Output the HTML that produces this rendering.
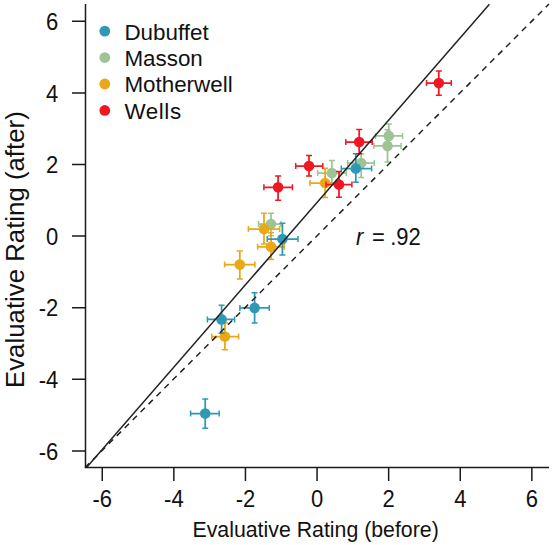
<!DOCTYPE html>
<html><head><meta charset="utf-8"><style>
html,body{margin:0;padding:0;background:#fff;}
svg{display:block;}
text{font-family:"Liberation Sans",sans-serif;font-size:22px;fill:#111;}
</style></head><body>
<svg width="554" height="545" viewBox="0 0 554 545">
<rect width="554" height="545" fill="#fff"/>
<path d="M375.5 135.9H402.5M388.8 124.0V147.6" stroke="#9cc494" stroke-width="1.75"/><path d="M375.5 132.9V138.9M402.5 132.9V138.9M385.8 124.0H391.8M385.8 147.6H391.8" stroke="#9cc494" stroke-width="1.5"/><circle cx="388.8" cy="135.9" r="5.3" fill="#9cc494"/>
<path d="M373.9 145.9H401.1M387.5 129.7V161.9" stroke="#9cc494" stroke-width="1.75"/><path d="M373.9 142.9V148.9M401.1 142.9V148.9M384.5 129.7H390.5M384.5 161.9H390.5" stroke="#9cc494" stroke-width="1.5"/><circle cx="387.5" cy="145.9" r="5.3" fill="#9cc494"/>
<path d="M347.6 163.0H374.3M361.2 154.1V177.5" stroke="#9cc494" stroke-width="1.75"/><path d="M347.6 160.0V166.0M374.3 160.0V166.0M358.2 154.1H364.2M358.2 177.5H364.2" stroke="#9cc494" stroke-width="1.5"/><circle cx="361.2" cy="163.0" r="5.3" fill="#9cc494"/>
<path d="M317.6 173.0H346.4M331.9 160.6V184.0" stroke="#9cc494" stroke-width="1.75"/><path d="M317.6 170.0V176.0M346.4 170.0V176.0M328.9 160.6H334.9M328.9 184.0H334.9" stroke="#9cc494" stroke-width="1.5"/><circle cx="331.9" cy="173.0" r="5.3" fill="#9cc494"/>
<path d="M258.5 224.0H281.0M271.0 213.2V235.8" stroke="#9cc494" stroke-width="1.75"/><path d="M258.5 221.0V227.0M281.0 221.0V227.0M268.0 213.2H274.0M268.0 235.8H274.0" stroke="#9cc494" stroke-width="1.5"/><circle cx="271.0" cy="224.0" r="5.3" fill="#9cc494"/>
<path d="M211.7 336.5H238.6M224.9 323.1V349.7" stroke="#eaa716" stroke-width="1.75"/><path d="M211.7 333.5V339.5M238.6 333.5V339.5M221.9 323.1H227.9M221.9 349.7H227.9" stroke="#eaa716" stroke-width="1.5"/><circle cx="224.9" cy="336.5" r="5.3" fill="#eaa716"/>
<path d="M224.6 264.6H254.9M239.8 251.0V278.9" stroke="#eaa716" stroke-width="1.75"/><path d="M224.6 261.6V267.6M254.9 261.6V267.6M236.8 251.0H242.8M236.8 278.9H242.8" stroke="#eaa716" stroke-width="1.5"/><circle cx="239.8" cy="264.6" r="5.3" fill="#eaa716"/>
<path d="M248.4 229.0H279.6M264.0 213.2V244.0" stroke="#eaa716" stroke-width="1.75"/><path d="M248.4 226.0V232.0M279.6 226.0V232.0M261.0 213.2H267.0M261.0 244.0H267.0" stroke="#eaa716" stroke-width="1.5"/><circle cx="264.0" cy="229.0" r="5.3" fill="#eaa716"/>
<path d="M257.6 246.8H284.2M271.0 232.7V259.6" stroke="#eaa716" stroke-width="1.75"/><path d="M257.6 243.8V249.8M284.2 243.8V249.8M268.0 232.7H274.0M268.0 259.6H274.0" stroke="#eaa716" stroke-width="1.5"/><circle cx="271.0" cy="246.8" r="5.3" fill="#eaa716"/>
<path d="M309.9 183.0H338.0M325.1 168.2V197.6" stroke="#eaa716" stroke-width="1.75"/><path d="M309.9 180.0V186.0M338.0 180.0V186.0M322.1 168.2H328.1M322.1 197.6H328.1" stroke="#eaa716" stroke-width="1.5"/><circle cx="325.1" cy="183.0" r="5.3" fill="#eaa716"/>
<path d="M190.6 413.6H219.2M205.2 399.1V428.3" stroke="#2f99b5" stroke-width="1.75"/><path d="M190.6 410.6V416.6M219.2 410.6V416.6M202.2 399.1H208.2M202.2 428.3H208.2" stroke="#2f99b5" stroke-width="1.5"/><circle cx="205.2" cy="413.6" r="5.3" fill="#2f99b5"/>
<path d="M207.4 319.4H234.6M221.6 305.3V333.2" stroke="#2f99b5" stroke-width="1.75"/><path d="M207.4 316.4V322.4M234.6 316.4V322.4M218.6 305.3H224.6M218.6 333.2H224.6" stroke="#2f99b5" stroke-width="1.5"/><circle cx="221.6" cy="319.4" r="5.3" fill="#2f99b5"/>
<path d="M239.9 307.9H269.3M254.6 292.8V323.1" stroke="#2f99b5" stroke-width="1.75"/><path d="M239.9 304.9V310.9M269.3 304.9V310.9M251.6 292.8H257.6M251.6 323.1H257.6" stroke="#2f99b5" stroke-width="1.5"/><circle cx="254.6" cy="307.9" r="5.3" fill="#2f99b5"/>
<path d="M267.3 239.1H298.0M282.4 223.3V255.0" stroke="#2f99b5" stroke-width="1.75"/><path d="M267.3 236.1V242.1M298.0 236.1V242.1M279.4 223.3H285.4M279.4 255.0H285.4" stroke="#2f99b5" stroke-width="1.5"/><circle cx="282.4" cy="239.1" r="5.3" fill="#2f99b5"/>
<path d="M341.3 168.6H371.6M355.8 153.8V182.3" stroke="#2f99b5" stroke-width="1.75"/><path d="M341.3 165.6V171.6M371.6 165.6V171.6M352.8 153.8H358.8M352.8 182.3H358.8" stroke="#2f99b5" stroke-width="1.5"/><circle cx="355.8" cy="168.6" r="5.3" fill="#2f99b5"/>
<path d="M426.5 83.1H451.3M438.8 71.0V95.2" stroke="#ef1822" stroke-width="1.75"/><path d="M426.5 80.1V86.1M451.3 80.1V86.1M435.8 71.0H441.8M435.8 95.2H441.8" stroke="#ef1822" stroke-width="1.5"/><circle cx="438.8" cy="83.1" r="5.3" fill="#ef1822"/>
<path d="M345.8 142.0H372.2M359.2 129.4V153.7" stroke="#ef1822" stroke-width="1.75"/><path d="M345.8 139.0V145.0M372.2 139.0V145.0M356.2 129.4H362.2M356.2 153.7H362.2" stroke="#ef1822" stroke-width="1.5"/><circle cx="359.2" cy="142.0" r="5.3" fill="#ef1822"/>
<path d="M295.7 166.0H322.8M309.0 155.5V175.9" stroke="#ef1822" stroke-width="1.75"/><path d="M295.7 163.0V169.0M322.8 163.0V169.0M306.0 155.5H312.0M306.0 175.9H312.0" stroke="#ef1822" stroke-width="1.5"/><circle cx="309.0" cy="166.0" r="5.3" fill="#ef1822"/>
<path d="M263.9 187.3H292.4M278.1 175.9V200.2" stroke="#ef1822" stroke-width="1.75"/><path d="M263.9 184.3V190.3M292.4 184.3V190.3M275.1 175.9H281.1M275.1 200.2H281.1" stroke="#ef1822" stroke-width="1.5"/><circle cx="278.1" cy="187.3" r="5.3" fill="#ef1822"/>
<path d="M326.0 184.5H351.9M339.0 171.5V197.3" stroke="#ef1822" stroke-width="1.75"/><path d="M326.0 181.5V187.5M351.9 181.5V187.5M336.0 171.5H342.0M336.0 197.3H342.0" stroke="#ef1822" stroke-width="1.5"/><circle cx="339.0" cy="184.5" r="5.3" fill="#ef1822"/>

<path d="M86.6 467.6L489.4 4.2" stroke="#222" stroke-width="1.5" fill="none"/>
<path d="M85 467.6L549 4" stroke="#222" stroke-width="1.5" fill="none" stroke-dasharray="6 5.23"/>
<path d="M85.5 4V467.6H549" stroke="#1a1a1a" stroke-width="1.5" fill="none"/>
<path d="M102.25 467.5V481M72 450.90H85.5M173.85 467.5V481M72 379.30H85.5M245.45 467.5V481M72 307.70H85.5M317.05 467.5V481M72 236.10H85.5M388.65 467.5V481M72 164.50H85.5M460.25 467.5V481M72 92.90H85.5M531.85 467.5V481M72 21.30H85.5" stroke="#1a1a1a" stroke-width="1.5" fill="none"/>
<text transform="translate(102.25 506.6) scale(1 1.06)" text-anchor="middle">-6</text><text transform="translate(58.3 459.60) scale(1 1.06)" text-anchor="end">-6</text><text transform="translate(173.85 506.6) scale(1 1.06)" text-anchor="middle">-4</text><text transform="translate(58.3 388.00) scale(1 1.06)" text-anchor="end">-4</text><text transform="translate(245.45 506.6) scale(1 1.06)" text-anchor="middle">-2</text><text transform="translate(58.3 316.40) scale(1 1.06)" text-anchor="end">-2</text><text transform="translate(317.05 506.6) scale(1 1.06)" text-anchor="middle">0</text><text transform="translate(58.3 244.80) scale(1 1.06)" text-anchor="end">0</text><text transform="translate(388.65 506.6) scale(1 1.06)" text-anchor="middle">2</text><text transform="translate(58.3 173.20) scale(1 1.06)" text-anchor="end">2</text><text transform="translate(460.25 506.6) scale(1 1.06)" text-anchor="middle">4</text><text transform="translate(58.3 101.60) scale(1 1.06)" text-anchor="end">4</text><text transform="translate(531.85 506.6) scale(1 1.06)" text-anchor="middle">6</text><text transform="translate(58.3 30.00) scale(1 1.06)" text-anchor="end">6</text>
<circle cx="104.8" cy="31.10" r="5.4" fill="#2f99b5"/><text x="124.4" y="39.50" style="font-size:22.4px">Dubuffet</text><circle cx="104.8" cy="57.55" r="5.4" fill="#9cc494"/><text x="124.4" y="65.95" style="font-size:22.4px">Masson</text><circle cx="104.8" cy="84.00" r="5.4" fill="#eaa716"/><text x="124.4" y="92.40" style="font-size:22.4px">Motherwell</text><circle cx="104.8" cy="110.45" r="5.4" fill="#ef1822"/><text x="124.4" y="118.85" style="font-size:22.4px" letter-spacing="0.6">Wells</text>
<text x="192.5" y="537.1" style="font-size:21.3px">Evaluative Rating (before)</text>
<text transform="translate(24.2 388) rotate(-90)" style="font-size:25.8px">Evaluative Rating (after)</text>
<g transform="translate(0 244.5) scale(1 1.06)"><text x="356" y="0" font-style="italic">r</text><text x="372" y="0">=</text><text x="390.2" y="0">.92</text></g>
</svg>
</body></html>
